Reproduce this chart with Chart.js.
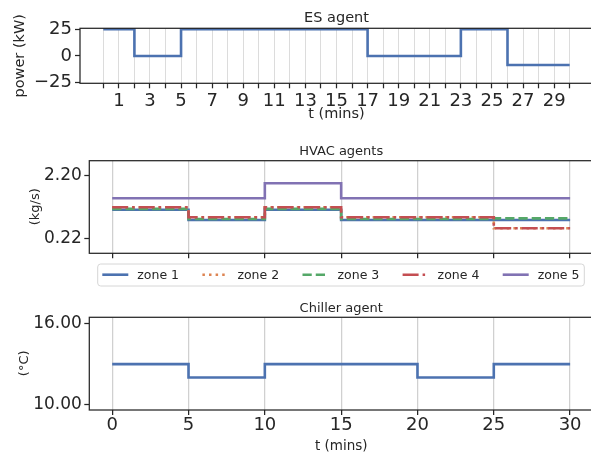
<!DOCTYPE html>
<html><head><meta charset="utf-8">
<script src="https://cdn.jsdelivr.net/npm/chart.js@4.4.1/dist/chart.umd.min.js"></script>
<style>
html,body{margin:0;padding:0;background:#fff;overflow:hidden;width:591px;height:456px;}
canvas.c{position:absolute;left:0;}
</style></head><body>
<canvas id="c1" class="c" width="600" height="135" style="top:0px"></canvas>
<canvas id="c2" class="c" width="600" height="160" style="top:135px"></canvas>
<canvas id="c3" class="c" width="600" height="161" style="top:295px"></canvas>
<script>
// ---------- data ----------
const esTime  = [0, 2, 5, 17, 23, 26, 30];
const esPower = [25, 0, 25, 0, 25, -8.4, -8.4];
const esXTicks = [0,1,2,3,4,5,6,7,8,9,10,11,12,13,14,15,16,17,18,19,20,21,22,23,24,25,26,27,28,29,30];
const esXLabeled = [1,3,5,7,9,11,13,15,17,19,21,23,25,27,29];
const esYTicks = [-25, 0, 25];

const hvacTime = [0, 5, 10, 15, 25, 30];
const zoneNames = ['zone 1', 'zone 2', 'zone 3', 'zone 4', 'zone 5'];
const zone1 = [1.125, 0.80, 1.125, 0.80, 0.80, 0.80];
const zone2 = [1.20, 0.884, 1.20, 0.884, 0.536, 0.536];
const zone3 = [1.15, 0.83, 1.15, 0.83, 0.85, 0.85];
const zone4 = [1.20, 0.884, 1.20, 0.884, 0.536, 0.536];
const zone5 = [1.485, 1.485, 1.96, 1.485, 1.485, 1.485];
const hvacYTicks = [0.22, 2.20];
const timeTicks = [0, 5, 10, 15, 20, 25, 30];

const chTime = [0, 5, 10, 20, 25, 30];
const chTemp = [13, 12, 13, 12, 13, 13];
const chYTicks = [10, 16];

// ---------- styling ----------
const FONT = "'DejaVu Sans', sans-serif";
const INK = '#262626';
Chart.defaults.font.family = FONT;
Chart.defaults.color = INK;
const COLORS = ['#4C72B0', '#DD8452', '#55A868', '#C44E52', '#8172B3'];
const DASHES = [[], [2.5, 4.1], [9.25, 4], [16, 4, 2.5, 4], []];

const toXY = (xs, ys) => xs.map((x, i) => ({x: x, y: ys[i]}));
const fmtMinus = v => (v < 0 ? '\u2212' + Math.abs(v) : String(v));

const decor = {
  id: 'decor',
  afterDatasetsDraw(chart) {
    const a = chart.chartArea, ctx = chart.ctx;
    ctx.save();
    ctx.strokeStyle = INK; ctx.lineWidth = 1.25;
    ctx.strokeRect(a.left, a.top, a.right - a.left, a.bottom - a.top);
    ctx.restore();
  },
  afterDraw(chart, args, opts) {
    const ctx = chart.ctx;
    (opts.texts || []).forEach(t => {
      ctx.save();
      ctx.font = t.size + 'px ' + FONT;
      ctx.fillStyle = INK; ctx.textAlign = 'center'; ctx.textBaseline = 'alphabetic';
      ctx.translate(t.x, t.y);
      if (t.rot) ctx.rotate(t.rot);
      ctx.fillText(t.text, 0, 0);
      ctx.restore();
    });
    const L = opts.legend;
    if (L) {
      ctx.save();
      const r = 3, x0 = L.x0, y0 = L.y0, x1 = L.x1, y1 = L.y1;
      ctx.beginPath();
      ctx.moveTo(x0 + r, y0); ctx.lineTo(x1 - r, y0); ctx.arcTo(x1, y0, x1, y0 + r, r);
      ctx.lineTo(x1, y1 - r); ctx.arcTo(x1, y1, x1 - r, y1, r);
      ctx.lineTo(x0 + r, y1); ctx.arcTo(x0, y1, x0, y1 - r, r);
      ctx.lineTo(x0, y0 + r); ctx.arcTo(x0, y0, x0 + r, y0, r);
      ctx.closePath();
      ctx.fillStyle = 'rgba(255,255,255,0.8)'; ctx.fill();
      ctx.strokeStyle = '#d6d6d6'; ctx.lineWidth = 1; ctx.stroke();
      const order = chart.data.datasets.slice().sort((p, q) => p.legendIndex - q.legendIndex);
      order.forEach((ds, i) => {
        const x = L.startX + i * L.step;
        ctx.setLineDash(ds.borderDash || []);
        ctx.strokeStyle = ds.borderColor; ctx.lineWidth = ds.borderWidth;
        ctx.beginPath(); ctx.moveTo(x, L.lineY); ctx.lineTo(x + L.lineLen, L.lineY); ctx.stroke();
        ctx.setLineDash([]);
        ctx.font = L.size + 'px ' + FONT; ctx.fillStyle = INK;
        ctx.textAlign = 'left'; ctx.textBaseline = 'alphabetic';
        ctx.fillText(ds.label, x + L.textGap, L.textY);
      });
      ctx.restore();
    }
  }
};

function xScale(min, max, ticks, labelFn, gridColor, gridWidth, fontSize, pad, height) {
  return {
    type: 'linear', min: min, max: max,
    afterBuildTicks: s => { s.ticks = ticks.map(v => ({value: v})); },
    afterFit: s => { s.height = height; },
    ticks: {autoSkip: false, maxRotation: 0, minRotation: 0, padding: pad,
            font: {size: fontSize}, color: INK, callback: labelFn},
    grid: {display: true, drawOnChartArea: true, color: gridColor, lineWidth: gridWidth,
           drawTicks: true, tickLength: 5, tickColor: INK, tickWidth: 1.25},
    border: {display: false}
  };
}
function yScale(min, max, ticks, labelFn, fontSize, pad, width) {
  return {
    type: 'linear', min: min, max: max,
    afterBuildTicks: s => { s.ticks = ticks.map(v => ({value: v})); },
    afterFit: s => { s.width = width; },
    ticks: {padding: pad, font: {size: fontSize}, color: INK, callback: labelFn},
    grid: {display: true, drawOnChartArea: false, drawTicks: true, tickLength: 5,
           tickColor: INK, tickWidth: 1.25},
    border: {display: false}
  };
}
function lineDs(label, xs, ys, i, order) {
  return {
    label: label, data: toXY(xs, ys), borderColor: COLORS[i], backgroundColor: COLORS[i],
    borderDash: DASHES[i], borderWidth: 2.6, pointRadius: 0, pointHoverRadius: 0,
    stepped: true, tension: 0, fill: false, clip: false, order: order, legendIndex: i,
    borderCapStyle: 'butt', borderJoinStyle: 'miter'
  };
}
const baseOpts = {responsive: false, maintainAspectRatio: false, animation: false,
  events: [], devicePixelRatio: 1};

// ---------- ES agent ----------
new Chart(document.getElementById('c1'), {
  type: 'line',
  data: {datasets: [lineDs('ES', esTime, esPower, 0, 1)]},
  options: Object.assign({}, baseOpts, {
    layout: {padding: {top: 28.3, right: 7, bottom: 0, left: 0}},
    scales: {
      x: xScale(-1.5, 31.5, esXTicks, v => (esXLabeled.includes(v) ? String(v) : ''),
                '#dcdcdc', 1, 18, 2.5, 51.7),
      y: yScale(-25.6, 25.9, esYTicks, fmtMinus, 18, 3, 80)
    },
    plugins: {legend: {display: false}, tooltip: {enabled: false},
      decor: {texts: [
        {text: 'ES agent', x: 336.5, y: 21.7, size: 14.5},
        {text: 't (mins)', x: 336.5, y: 118, size: 14.5},
        {text: 'power (kW)', x: 23.8, y: 55.8, size: 14.5, rot: -Math.PI / 2}
      ]}}
  }),
  plugins: [decor]
});

// ---------- HVAC agents ----------
const zones = [zone1, zone2, zone3, zone4, zone5];
new Chart(document.getElementById('c2'), {
  type: 'line',
  data: {datasets: zones.map((z, i) => lineDs(zoneNames[i], hvacTime, z, i, 5 - i))},
  options: Object.assign({}, baseOpts, {
    layout: {padding: {top: 25.7, right: 7, bottom: 0, left: 0}},
    scales: {
      x: xScale(-1.5, 31.5, timeTicks, () => '', '#d0d0d0', 1.25, 17, 0, 41.7),
      y: yScale(-0.254, 2.674, hvacYTicks, v => v.toFixed(2), 17, 2.5, 89.3)
    },
    plugins: {legend: {display: false}, tooltip: {enabled: false},
      decor: {
        texts: [
          {text: 'HVAC agents', x: 341.2, y: 20, size: 13},
          {text: '(kg/s)', x: 39, y: 71.7, size: 13, rot: -Math.PI / 2}
        ],
        legend: {x0: 97.7, y0: 129, x1: 584.3, y1: 151, startX: 102.3, step: 100.1,
                 lineLen: 26, textGap: 35, lineY: 139.7, textY: 144.3, size: 12.5}
      }}
  }),
  plugins: [decor]
});

// ---------- Chiller agent ----------
new Chart(document.getElementById('c3'), {
  type: 'line',
  data: {datasets: [lineDs('Chiller', chTime, chTemp, 0, 1)]},
  options: Object.assign({}, baseOpts, {
    layout: {padding: {top: 22.3, right: 7, bottom: 0, left: 0}},
    scales: {
      x: xScale(-1.5, 31.5, timeTicks, v => String(v), '#d0d0d0', 1.25, 18, 0, 46),
      y: yScale(9.575, 16.5, chYTicks, v => v.toFixed(2), 17, 2.5, 89.3)
    },
    plugins: {legend: {display: false}, tooltip: {enabled: false},
      decor: {texts: [
        {text: 'Chiller agent', x: 341.2, y: 16.6, size: 13},
        {text: 't (mins)', x: 341.2, y: 154.5, size: 13.5},
        {text: '(\u00B0C)', x: 28.3, y: 68.3, size: 13, rot: -Math.PI / 2}
      ]}}
  }),
  plugins: [decor]
});
</script>
</body></html>
